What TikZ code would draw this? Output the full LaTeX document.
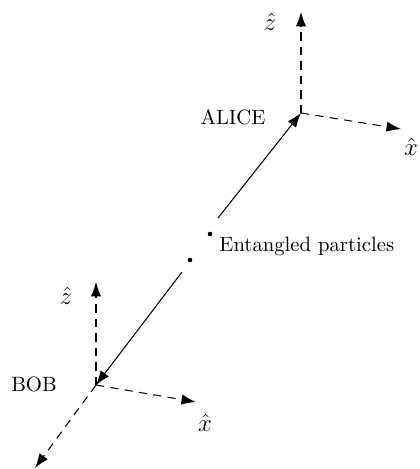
\documentclass[tikz,border=0pt]{standalone}
\usetikzlibrary{arrows.meta}
\begin{document}
\begin{tikzpicture}[x=0.483pt,y=-0.483pt,
  axis/.style={dash pattern=on 4pt off 3pt, line width=0.5pt, -{Latex[length=7pt,width=5pt]}},
  beam/.style={line width=0.5pt, -{Latex[length=7pt,width=5pt]}},
  lbl/.style={inner sep=0pt, font=\large},
  txt/.style={inner sep=0pt},
  dotc/.style={circle, fill=black, inner sep=0pt, minimum size=2.2pt}]
\useasboundingbox (0,0) rectangle (420,469);
% Alice frame
\coordinate (A) at (301,113);
\coordinate (Az) at (301,12);
\coordinate (Ax) at (401,129);
\draw[axis] (A) -- (Az);
\draw[axis] (A) -- (Ax);
\node[lbl] (Azl) at (270,22) {$\hat{z}$};
\node[lbl] (Axl) at (411,147) {$\hat{x}$};
\node[txt] (Alice) at (233,117) {ALICE};
% Bob frame
\coordinate (B) at (96,385);
\coordinate (Bz) at (96,282);
\coordinate (Bx) at (196,402);
\coordinate (By) at (35,468);
\draw[axis] (B) -- (Bz);
\draw[axis] (B) -- (Bx);
\draw[axis] (B) -- (By);
\node[lbl] (Bzl) at (66,296) {$\hat{z}$};
\node[lbl] (Bxl) at (205,423) {$\hat{x}$};
\node[txt] (Bob) at (34,384) {BOB};
% particles
\node[dotc] (p1) at (210,234) {};
\node[dotc] (p2) at (190,260) {};
\coordinate (s1) at (218,218);
\coordinate (s2) at (182,272);
\draw[beam] (s1) -- (A);
\draw[beam] (s2) -- (B);
\node[txt, anchor=west] (ent) at (219,246) {Entangled particles};
\end{tikzpicture}
\end{document}
